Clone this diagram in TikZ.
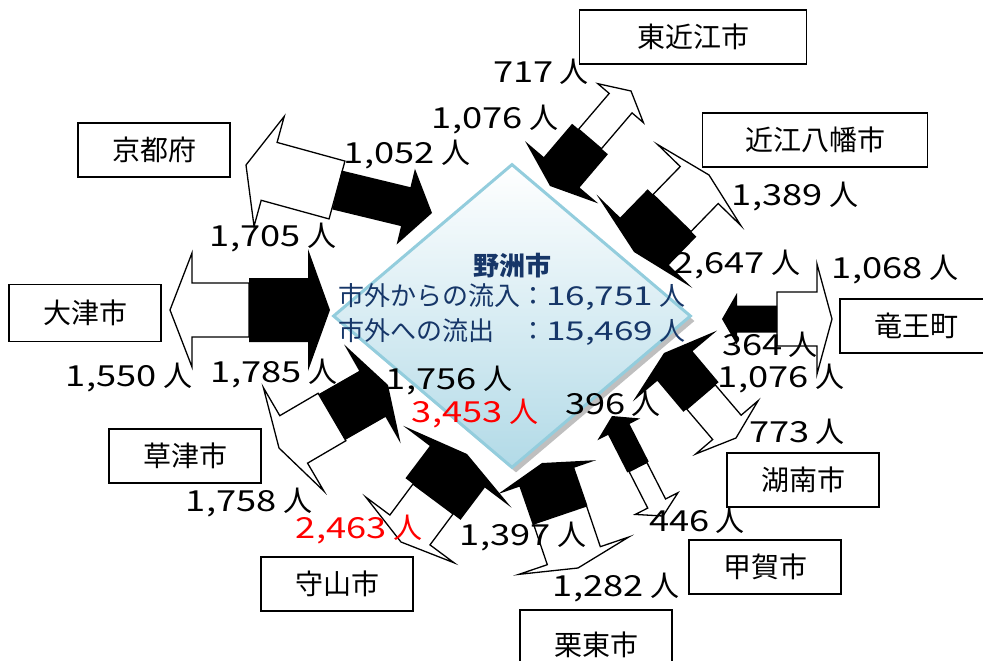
\documentclass[tikz,border=0pt]{standalone}
\usepackage{fontspec}
\setmainfont{Noto Sans CJK JP}
\newfontfamily\numfont[FakeStretch=1.25]{Noto Sans CJK JP}
\newfontfamily\centernumfont[FakeStretch=1.35]{Noto Sans CJK JP}
\usetikzlibrary{calc,shapes.geometric,shadows}

\definecolor{navytext}{RGB}{22,54,104}
\definecolor{diamondline}{RGB}{147,205,221}
\definecolor{diamondfill}{RGB}{178,218,231}

\newcommand{\cnt}[1]{{\numfont #1} 人}
\newcommand{\countsize}{\fontsize{29}{32}\selectfont}
\newcommand{\citysize}{\fontsize{28}{32}\selectfont}
\newcommand{\centersize}{\fontsize{26}{30}\selectfont}
% block arrow: base, tip, shaft half width, head half width, head length, style
\newcommand{\flowarrow}[6]{%
  \coordinate (fa-h) at ($(#2)!#5!(#1)$);
  \path[#6] ($(#1)!#3!90:(#2)$) -- ($(fa-h)!#3!-90:(#1)$) -- ($(fa-h)!#4!-90:(#1)$) -- (#2)
    -- ($(fa-h)!#4!90:(#1)$) -- ($(fa-h)!#3!90:(#1)$) -- ($(#1)!#3!-90:(#2)$) -- cycle;
}

\begin{document}
\begin{tikzpicture}[x=1pt,y=-1pt]
  \tikzstyle{city}=[draw=black,line width=1.6pt,fill=white,minimum width=152pt,minimum height=54pt,inner sep=0pt,font=\citysize]
  \tikzstyle{count}=[inner sep=0pt,font=\countsize]
  \tikzstyle{whitearrow}=[draw=black,fill=white,line width=1.3pt,line join=miter]
  \tikzstyle{blackarrow}=[fill=black]
  \tikzstyle{centertext}=[font=\centersize,text=navytext,inner sep=0pt]
  \useasboundingbox (0,0) rectangle (983,661);
  \clip (0,0) rectangle (983,661);

  % centre
  \node[diamond,draw=diamondline,line width=3pt,top color=white,bottom color=diamondfill,
        minimum width=358pt,minimum height=304pt,inner sep=0pt,
        drop shadow={shadow xshift=4pt,shadow yshift=-5pt,fill=black,opacity=0.25}] (yasu) at (512,316) {};
  \node[centertext,font=\centersize\bfseries] (yasuname) at (512,266) {野洲市};
  \node[centertext,anchor=west] (inflow) at (338,297) {市外からの流入：{\centernumfont 16,751} 人};
  \node[centertext,anchor=west] (outflow) at (338,332) {\makebox[7em][l]{市外への流出}：{\centernumfont 15,469} 人};

  % junctions and tips
  \coordinate (kyotoJ) at (337,190);       \coordinate (kyotoW) at (246,165);       \coordinate (kyotoB) at (432,213);
  \coordinate (otsuJ) at (249,310);        \coordinate (otsuW) at (170,310);        \coordinate (otsuB) at (330,310);
  \coordinate (higashiJ) at (590,139);     \coordinate (higashiW) at (631,91);      \coordinate (higashiB) at (550,186);
  \coordinate (hachimanJ) at (672,213);    \coordinate (hachimanW) at (709,175);    \coordinate (hachimanB) at (634,252);
  \coordinate (ryuoJ) at (777,319);        \coordinate (ryuoW) at (832,319);        \coordinate (ryuoB) at (722,319);
  \coordinate (konanJ) at (701,397);       \coordinate (konanW) at (736,438);       \coordinate (konanB) at (664,353);
  \coordinate (kokaJ) at (638,467);        \coordinate (kokaW) at (663,516);        \coordinate (kokaB) at (612,416);
  \coordinate (rittoJ) at (560,515);       \coordinate (rittoW) at (578,568);       \coordinate (rittoB) at (542,463);
  \coordinate (moriyamaJ) at (433,499);    \coordinate (moriyamaW) at (401,542);    \coordinate (moriyamaB) at (467,454);
  \coordinate (kusatsuJ) at (332,417);     \coordinate (kusatsuW) at (279,448);     \coordinate (kusatsuB) at (388,385);

  % arrows: white = out of the city, black = into the city
  \flowarrow{kyotoJ}{kyotoW}{30pt}{57pt}{24pt}{whitearrow}
  \flowarrow{kyotoJ}{kyotoB}{20pt}{39pt}{27pt}{blackarrow}
  \flowarrow{otsuJ}{otsuW}{27pt}{57pt}{22pt}{whitearrow}
  \flowarrow{otsuJ}{otsuB}{32pt}{61pt}{22pt}{blackarrow}
  \flowarrow{higashiJ}{higashiW}{15pt}{30pt}{16pt}{whitearrow}
  \flowarrow{higashiJ}{higashiB}{23.5pt}{48pt}{18pt}{blackarrow}
  \flowarrow{hachimanJ}{hachimanW}{26.5pt}{58pt}{14pt}{whitearrow}
  \flowarrow{hachimanJ}{hachimanB}{34pt}{67pt}{15pt}{blackarrow}
  \flowarrow{ryuoJ}{ryuoW}{27pt}{55pt}{15pt}{whitearrow}
  \flowarrow{ryuoJ}{ryuoB}{13.5pt}{26pt}{15pt}{blackarrow}
  \flowarrow{konanJ}{konanW}{18.7pt}{41pt}{14pt}{whitearrow}
  \flowarrow{konanJ}{konanB}{23pt}{55pt}{17pt}{blackarrow}
  \flowarrow{kokaJ}{kokaW}{10pt}{24pt}{14pt}{whitearrow}
  \flowarrow{kokaJ}{kokaB}{12pt}{24pt}{15pt}{blackarrow}
  \flowarrow{rittoJ}{rittoW}{28pt}{58pt}{13pt}{whitearrow}
  \flowarrow{rittoJ}{rittoB}{29pt}{52pt}{15pt}{blackarrow}
  \flowarrow{moriyamaJ}{moriyamaW}{25pt}{55pt}{15pt}{whitearrow}
  \flowarrow{moriyamaJ}{moriyamaB}{34.5pt}{68pt}{16pt}{blackarrow}
  \flowarrow{kusatsuJ}{kusatsuW}{27.5pt}{60pt}{17pt}{whitearrow}
  \flowarrow{kusatsuJ}{kusatsuB}{26.5pt}{57pt}{18pt}{blackarrow}

  % cities
  \node[city,minimum width=227pt] (higashiomi) at (693,37) {東近江市};
  \node[city,minimum width=225pt] (omihachiman) at (815,140) {近江八幡市};
  \node[city] (kyoto) at (154,150) {京都府};
  \node[city,minimum height=57pt] (otsu) at (85,313) {大津市};
  \node[city] (ryuo) at (916,326) {竜王町};
  \node[city] (konan) at (803,480) {湖南市};
  \node[city] (koka) at (765,567) {甲賀市};
  \node[city,minimum height=70pt] (ritto) at (596,645) {栗東市};
  \node[city] (moriyama) at (337,584) {守山市};
  \node[city] (kusatsu) at (185,456) {草津市};

  % counts
  \node[count] (c717) at (541,72) {\cnt{717}};
  \node[count] (c1076a) at (495,120) {\cnt{1,076}};
  \node[count] (c1052) at (407,155) {\cnt{1,052}};
  \node[count] (c1705) at (273,238) {\cnt{1,705}};
  \node[count] (c1389) at (795,197) {\cnt{1,389}};
  \node[count] (c2647) at (737,265) {\cnt{2,647}};
  \node[count] (c1068) at (895,270) {\cnt{1,068}};
  \node[count] (c364) at (770,345) {\cnt{364}};
  \node[count] (c1076b) at (781,379) {\cnt{1,076}};
  \node[count] (c773) at (797,432) {\cnt{773}};
  \node[count] (c396) at (613,404) {\cnt{396}};
  \node[count] (c1756) at (449,381) {\cnt{1,756}};
  \node[count,text=red] (c3453) at (475,414) {\cnt{3,453}};
  \node[count] (c1785) at (274,374) {\cnt{1,785}};
  \node[count] (c1550) at (129,378) {\cnt{1,550}};
  \node[count] (c1758) at (249,503) {\cnt{1,758}};
  \node[count,text=red] (c2463) at (359,530) {\cnt{2,463}};
  \node[count] (c1397) at (523,537) {\cnt{1,397}};
  \node[count] (c446) at (697,521) {\cnt{446}};
  \node[count] (c1282) at (616,588) {\cnt{1,282}};
\end{tikzpicture}
\end{document}
